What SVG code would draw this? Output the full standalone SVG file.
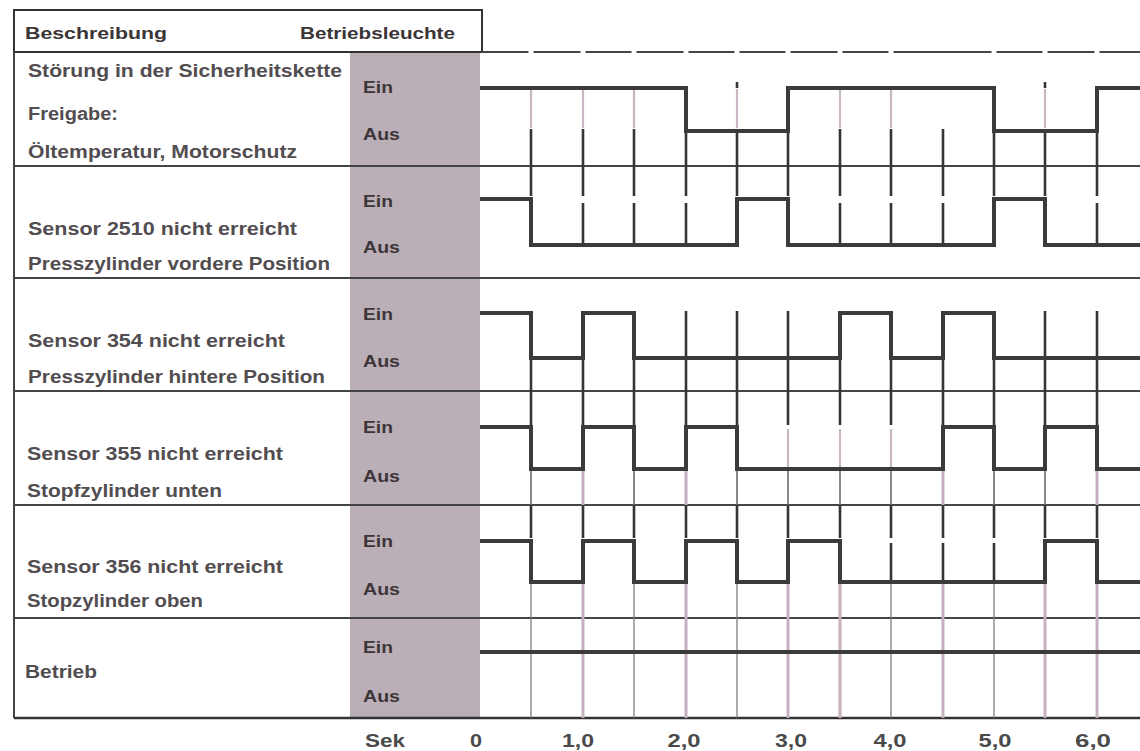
<svg xmlns="http://www.w3.org/2000/svg" width="1140" height="751" viewBox="0 0 1140 751">
<style>
.t{font-family:"Liberation Sans",Arial,sans-serif;font-weight:bold;font-size:18px;fill:#524d50}
.h{font-family:"Liberation Sans",Arial,sans-serif;font-weight:bold;font-size:17px;fill:#3a3536}
.s{font-family:"Liberation Sans",Arial,sans-serif;font-weight:bold;font-size:17px;fill:#3d3538}
.ax{font-family:"Liberation Sans",Arial,sans-serif;font-weight:bold;font-size:19px;fill:#4a4a4a}
.rl{stroke:#454545;stroke-width:2;fill:none}
.wave{stroke:#3b3b3b;stroke-width:4;fill:none;stroke-linejoin:miter}
.dk{stroke:#353535;stroke-width:2.6;fill:none}
.md{stroke:#6a6a6a;stroke-width:1.6;fill:none}
.lt{stroke:#c9b6c4;stroke-width:2.2;fill:none}
.pk{stroke:#c6b0bf;stroke-width:3;fill:none}
.tn{stroke:#7c7c7c;stroke-width:1.3;fill:none}
</style>
<rect width="1140" height="751" fill="#ffffff"/>
<rect id="lamp-column" x="350" y="53" width="130" height="665" fill="#bbafb7"/>
<g id="table">
<rect x="14" y="10" width="468" height="42" fill="none" stroke="#333" stroke-width="2"/>
<line x1="14" y1="52" x2="14" y2="718" class="rl"/>
<path class="rl" d="M482,52 H528.5 M533.5,52 H580.5 M585.5,52 H631.5 M636.5,52 H683.5 M688.5,52 H734.5 M739.5,52 H785.5 M790.5,52 H837.5 M842.5,52 H888.5 M893.5,52 H991.5 M996.5,52 H1042.5 M1047.5,52 H1094.5 M1099.5,52 H1140"/>
<path class="rl" d="M14,166 H1140 M14,278 H1140 M14,391 H1140 M14,505 H1140 M14,618 H1140"/>
<line x1="14" y1="718" x2="1140" y2="718" stroke="#333" stroke-width="2.5"/>
</g>
<g id="header">
<text class="h" x="25" y="39" textLength="142" lengthAdjust="spacingAndGlyphs">Beschreibung</text>
<text class="h" x="300" y="39" textLength="155" lengthAdjust="spacingAndGlyphs">Betriebsleuchte</text>
</g>
<g id="grid">
<path class="lt" d="M531,89 V128 M583,89 V128 M634,89 V128 M737,89 V128 M840,89 V128 M891,89 V128 M1045,89 V128"/>
<path class="dk" d="M737,82 V88 M1045,82 V88"/>
<path class="dk" d="M531,129 V196 M583,129 V196 M634,129 V196 M686,129 V196 M737,129 V196 M788,129 V196 M840,129 V196 M891,129 V196 M943,129 V196 M994,129 V196 M1045,129 V196 M1097,129 V196"/>
<path class="dk" d="M583,203 V245 M634,203 V245 M686,203 V245 M840,203 V245 M891,203 V245 M943,203 V245 M1097,203 V245"/>
<path class="dk" d="M686,311 V358 M737,311 V358 M788,311 V358 M1045,311 V358 M1097,311 V358"/>
<path class="dk" d="M531,358 V425 M583,358 V425 M634,358 V425 M686,358 V425 M737,358 V425 M788,358 V425 M840,358 V425 M891,358 V425 M943,358 V425 M994,358 V425 M1045,358 V425 M1097,358 V425"/>
<path class="lt" d="M788,429 V467 M840,429 V467 M891,429 V467"/>
<path class="md" d="M531,469 V505 M634,469 V505 M737,469 V505 M788,469 V505 M840,469 V505 M891,469 V505 M994,469 V505 M1045,469 V505"/>
<path class="pk" d="M583,469 V505 M686,469 V505 M943,469 V505 M1097,469 V505"/>
<path class="dk" d="M531,505 V538 M583,505 V538 M634,505 V538 M686,505 V538 M737,505 V538 M788,505 V538 M840,505 V538 M891,505 V538 M943,505 V538 M994,505 V538 M1045,505 V538 M1097,505 V538"/>
<path class="dk" d="M891,543 V582 M943,543 V582 M994,543 V582"/>
<path class="tn" d="M531,582 V718 M634,582 V718 M737,582 V718 M891,582 V718 M994,582 V718"/>
<path class="pk" d="M583,582 V718 M686,582 V718 M788,582 V718 M840,582 V718 M943,582 V718 M1045,582 V718 M1097,582 V718"/>
</g>
<g id="waveforms">
<path class="wave" d="M480,88 H686 V131 H788 V88 H994 V131 H1097 V88 H1140"/>
<path class="wave" d="M480,199 H531 V245 H737 V199 H788 V245 H994 V199 H1045 V245 H1140"/>
<path class="wave" d="M480,313 H531 V358 H583 V313 H634 V358 H840 V313 H891 V358 H943 V313 H994 V358 H1140"/>
<path class="wave" d="M480,427 H531 V469 H583 V427 H634 V469 H686 V427 H737 V469 H943 V427 H994 V469 H1045 V427 H1097 V469 H1140"/>
<path class="wave" d="M480,541 H531 V582 H583 V541 H634 V582 H686 V541 H737 V582 H788 V541 H840 V582 H1045 V541 H1097 V582 H1140"/>
<path class="wave" d="M480,652 H1140"/>
</g>
<g id="row1">
<text class="t" x="28" y="77" textLength="314" lengthAdjust="spacingAndGlyphs">Störung in der Sicherheitskette</text>
<text class="t" x="28" y="120" textLength="90" lengthAdjust="spacingAndGlyphs">Freigabe:</text>
<text class="t" x="28" y="158" textLength="269" lengthAdjust="spacingAndGlyphs">Öltemperatur, Motorschutz</text>
<text class="s" x="363" y="93" textLength="30" lengthAdjust="spacingAndGlyphs">Ein</text>
<text class="s" x="363" y="140" textLength="37" lengthAdjust="spacingAndGlyphs">Aus</text>
</g>
<g id="row2">
<text class="t" x="28" y="235" textLength="269" lengthAdjust="spacingAndGlyphs">Sensor 2510 nicht erreicht</text>
<text class="t" x="28" y="270" textLength="302" lengthAdjust="spacingAndGlyphs">Presszylinder vordere Position</text>
<text class="s" x="363" y="207" textLength="30" lengthAdjust="spacingAndGlyphs">Ein</text>
<text class="s" x="363" y="253" textLength="37" lengthAdjust="spacingAndGlyphs">Aus</text>
</g>
<g id="row3">
<text class="t" x="28" y="347" textLength="257" lengthAdjust="spacingAndGlyphs">Sensor 354 nicht erreicht</text>
<text class="t" x="28" y="383" textLength="297" lengthAdjust="spacingAndGlyphs">Presszylinder hintere Position</text>
<text class="s" x="363" y="320" textLength="30" lengthAdjust="spacingAndGlyphs">Ein</text>
<text class="s" x="363" y="367" textLength="37" lengthAdjust="spacingAndGlyphs">Aus</text>
</g>
<g id="row4">
<text class="t" x="27" y="460" textLength="256" lengthAdjust="spacingAndGlyphs">Sensor 355 nicht erreicht</text>
<text class="t" x="27" y="497" textLength="195" lengthAdjust="spacingAndGlyphs">Stopfzylinder unten</text>
<text class="s" x="363" y="433" textLength="30" lengthAdjust="spacingAndGlyphs">Ein</text>
<text class="s" x="363" y="482" textLength="37" lengthAdjust="spacingAndGlyphs">Aus</text>
</g>
<g id="row5">
<text class="t" x="27" y="573" textLength="256" lengthAdjust="spacingAndGlyphs">Sensor 356 nicht erreicht</text>
<text class="t" x="27" y="607" textLength="176" lengthAdjust="spacingAndGlyphs">Stopzylinder oben</text>
<text class="s" x="363" y="547" textLength="30" lengthAdjust="spacingAndGlyphs">Ein</text>
<text class="s" x="363" y="595" textLength="37" lengthAdjust="spacingAndGlyphs">Aus</text>
</g>
<g id="row6">
<text class="t" x="25" y="678" textLength="72" lengthAdjust="spacingAndGlyphs">Betrieb</text>
<text class="s" x="363" y="653" textLength="30" lengthAdjust="spacingAndGlyphs">Ein</text>
<text class="s" x="363" y="702" textLength="37" lengthAdjust="spacingAndGlyphs">Aus</text>
</g>
<g id="axis">
<text class="ax" x="365" y="747" textLength="40" lengthAdjust="spacingAndGlyphs">Sek</text>
<text class="ax" x="476" y="747" text-anchor="middle" textLength="12" lengthAdjust="spacingAndGlyphs">0</text>
<text class="ax" x="578" y="747" text-anchor="middle" textLength="32" lengthAdjust="spacingAndGlyphs">1,0</text>
<text class="ax" x="684" y="747" text-anchor="middle" textLength="33" lengthAdjust="spacingAndGlyphs">2,0</text>
<text class="ax" x="791" y="747" text-anchor="middle" textLength="32" lengthAdjust="spacingAndGlyphs">3,0</text>
<text class="ax" x="890" y="747" text-anchor="middle" textLength="33" lengthAdjust="spacingAndGlyphs">4,0</text>
<text class="ax" x="995" y="747" text-anchor="middle" textLength="33" lengthAdjust="spacingAndGlyphs">5,0</text>
<text class="ax" x="1093" y="747" text-anchor="middle" textLength="36" lengthAdjust="spacingAndGlyphs">6,0</text>
</g>
</svg>
